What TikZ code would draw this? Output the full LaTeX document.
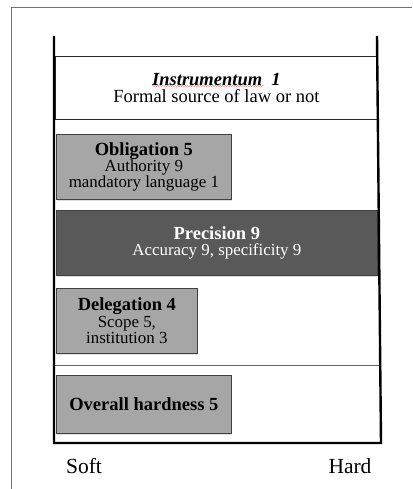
\documentclass[tikz,border=0pt]{standalone}
\usepackage{fontspec}
\setmainfont{Liberation Serif}
\usetikzlibrary{positioning, shadows, decorations.pathmorphing}
\newcommand{\boxhead}[1]{{\fontsize{18.5}{16.4}\selectfont\bfseries #1}}

\begin{document}
\begin{tikzpicture}[
                    x=1pt, y=-1pt,
                    every node/.style={
                        font=\fontsize{16.9}{16.4}\selectfont,
                        align=center, inner sep=0pt
                        },
                    band/.style={
                        rectangle, anchor=north west,
                        draw=black!85, line width=0.9pt,
                        minimum width=322pt,
                        font=\fontsize{18.5}{17.4}\selectfont
                        },
                    scorebox/.style={
                        rectangle, anchor=north west,
                        draw=black!75, line width=0.7pt,
                        fill=black!35,
                        drop shadow={shadow xshift=1pt, shadow yshift=-1.2pt, opacity=0.25}
                        },
                    darkbox/.style={
                        scorebox, fill=black!65, text=white
                        },
                    wall/.style={
                        line width=2.4pt, black
                        },
                    axislabel/.style={
                        font=\fontsize{21.5}{22}\selectfont
                        }
                    ]
                \useasboundingbox (0,0) rectangle (412,489);
                % page frame
                \draw[black!55, line width=0.8pt] (11,489) -- (11,7) -- (412,7);

                % bands and boxes
                \node [band, minimum height=63pt] (instr) at (55,56)
                    {\textbf{\textit{Instrumentum}}\ \ \textbf{\textit{1}}\\Formal source of law or not};
                \draw[red!75, line width=0.3pt, decorate,
                      decoration={snake, segment length=2.5pt, amplitude=0.5pt}]
                    (152,86) -- (264,86);
                \node [scorebox, minimum width=175pt, minimum height=65pt] (oblig) at (56,134)
                    {\boxhead{Obligation 5}\\Authority 9\\mandatory language 1};
                \node [darkbox, minimum width=321pt, minimum height=65pt] (prec) at (56,210)
                    {\boxhead{Precision 9}\\Accuracy 9, specificity 9};
                \node [scorebox, minimum width=141pt, minimum height=65pt] (deleg) at (56,288)
                    {\boxhead{Delegation 4}\\Scope 5,\\institution 3};
                \coordinate (sepL) at (55,365);
                \coordinate (sepR) at (380,365);
                \draw[black!60, line width=0.8pt] (sepL) -- (sepR);
                \node [scorebox, minimum width=175pt, minimum height=58pt] (hard5) at (56,375)
                    {\boxhead{Overall hardness 5}};

                % container
                \coordinate (tl) at (54,36);
                \coordinate (bl) at (54,443);
                \coordinate (br) at (381,443);
                \coordinate (tr) at (377,36);
                \draw[wall] (tl) -- (bl) -- (br) -- (tr);

                % axis ends
                \node [axislabel] (soft) at (84,466) {Soft};
                \node [axislabel] (hard) at (350,466) {Hard};
            \end{tikzpicture}
\end{document}
